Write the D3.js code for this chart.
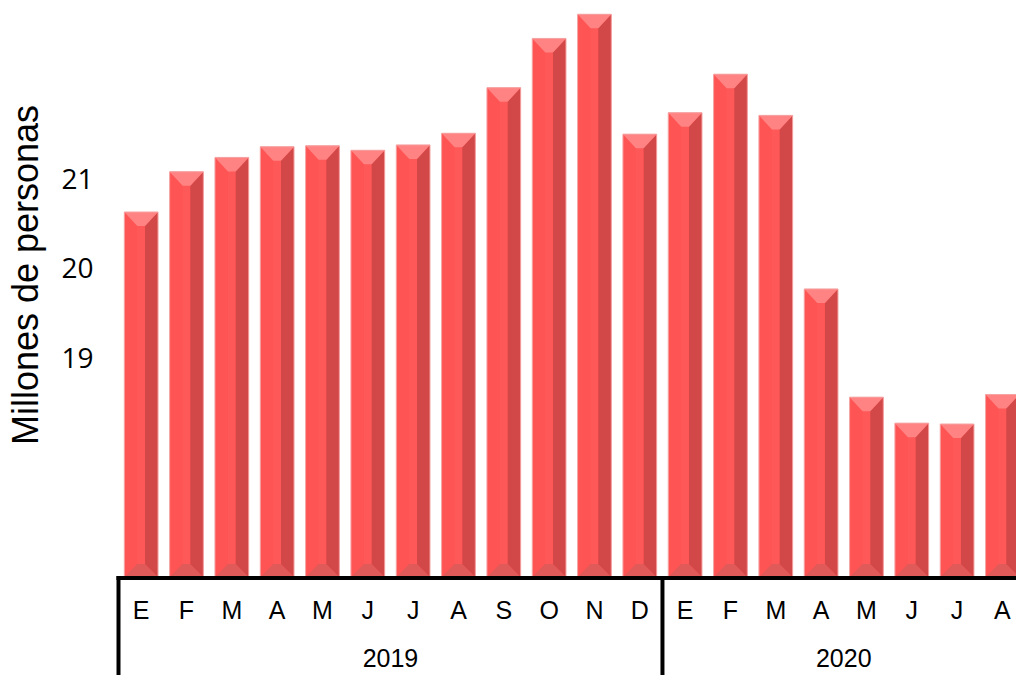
<!DOCTYPE html>
<html lang="es">
<head>
  <meta charset="UTF-8">
  <script src="https://cdn.jsdelivr.net/npm/d3@7"></script>
  <title>Millones de personas</title>
  <style>
    body { margin: 0; background: #fff; }
    svg { display: block; }
    .ticks_text text { font-family: 'Open Sans', sans-serif; font-size: 28px; fill: #000; }
    .month_text text { font-family: 'Liberation Sans', Arial, sans-serif; font-size: 25px; fill: #000; }
    .year_text { font-family: 'Liberation Sans', Arial, sans-serif; font-size: 25px; fill: #000; }
    .axis_text { font-family: 'Liberation Sans', Arial, sans-serif; font-size: 36px; fill: #000; }
  </style>
</head>
<body>
<div id="chart"></div>
<script>
  // data
  var years = ["2019", "2020"];
  var months2019 = ["E", "F", "M", "A", "M", "J", "J", "A", "S", "O", "N", "D"];
  var months2020 = ["E", "F", "M", "A", "M", "J", "J", "A"];
  var values2019 = [20.62, 21.07, 21.23, 21.35, 21.36, 21.31, 21.37, 21.50, 22.01, 22.56, 22.83, 21.49];
  var values2020 = [21.73, 22.16, 21.70, 19.76, 18.55, 18.26, 18.25, 18.58];
  var yTicks = [19, 20, 21];
  var yLabel = "Millones de personas";

  var width = 1016,
      height = 675,
      left = 118.5,
      step = 45.33,
      baseY = 577,
      bevel = 13;

  var dataset = [];
  months2019.forEach(function(m, i) { dataset.push({ key: "2019-" + i, month: m, year: "2019", value: values2019[i] }); });
  months2020.forEach(function(m, i) { dataset.push({ key: "2020-" + i, month: m, year: "2020", value: values2020[i] }); });

  var svg = d3.select("#chart")
    .append("svg")
    .attr("width", width)
    .attr("height", height);

  var xScale = d3.scaleBand()
    .domain(dataset.map(function(d) { return d.key; }))
    .range([left, left + step * dataset.length])
    .paddingInner(0.256)
    .paddingOuter(0.128);

  var yScale = d3.scaleLinear()
    .domain([16.54, 21])
    .range([baseY, 178]);

  // bevelled bars
  var bars = svg.append("g").selectAll("g")
    .data(dataset)
    .enter()
    .append("g");

  function poly(pts) { return "M" + pts.map(function(p) { return p.join(","); }).join("L") + "Z"; }

  function faces(d) {
    var x0 = xScale(d.key), x1 = x0 + xScale.bandwidth();
    var y0 = yScale(d.value), y1 = yScale(yScale.domain()[0]);
    var b = bevel;
    return {
      front: poly([[x0, y0], [x1, y0], [x1, y1], [x0, y1]]),
      top: poly([[x0, y0], [x1, y0], [x1 - b, y0 + b + 1], [x0 + b, y0 + b + 1]]),
      right: poly([[x1, y0], [x1, y1], [x1 - b, y1 - b], [x1 - b, y0 + b + 1]]),
      bottom: poly([[x0, y1], [x1, y1], [x1 - b, y1 - b], [x0 + b, y1 - b]]),
      mid: poly([[x0 + b, y0 + b + 1], [x1 - b, y0 + b + 1], [x1 - b, y1 - b], [x0 + b, y1 - b]])
    };
  }

  bars.append("path").attr("d", function(d) { return faces(d).front; }).style("fill", "#ff5454");
  bars.append("path").attr("d", function(d) { return faces(d).mid; }).style("fill", "#ff5858");
  bars.append("path").attr("d", function(d) { return faces(d).bottom; }).style("fill", "#e05a5a");
  bars.append("path").attr("d", function(d) { return faces(d).right; }).style("fill", "#d24747");
  bars.append("path").attr("d", function(d) { return faces(d).top; }).style("fill", "#ff8383");
  bars.append("path").attr("d", function(d) { return faces(d).front; })
    .style("fill", "none")
    .style("stroke", "#f5a3a3")
    .style("stroke-width", 1);

  // y ticks, no axis line
  var yAxis = svg.append("g")
    .attr("class", "ticks_text")
    .attr("transform", "translate(" + left + ",0)")
    .call(d3.axisLeft(yScale).tickValues(yTicks).tickSize(0).tickPadding(25).tickFormat(d3.format("d")));
  yAxis.select(".domain").remove();
  yAxis.selectAll("text").attr("dy", "0.36em");

  // month labels
  var xAxis = svg.append("g")
    .attr("class", "month_text")
    .attr("transform", "translate(0," + baseY + ")")
    .call(d3.axisBottom(xScale).tickSize(0).tickPadding(24).tickFormat(function(k) {
      return dataset.find(function(d) { return d.key === k; }).month;
    }));
  xAxis.select(".domain").remove();

  // axis lines
  svg.append("line")
    .attr("x1", left - 2).attr("x2", width)
    .attr("y1", baseY + 1).attr("y2", baseY + 1)
    .style("stroke", "#000").style("stroke-width", 4);

  years.forEach(function(yr) {
    var keys = dataset.filter(function(d) { return d.year === yr; }).map(function(d) { return d.key; });
    var xa = xScale(keys[0]) - xScale.step() * xScale.paddingOuter();
    var xb = xScale(keys[keys.length - 1]) + xScale.bandwidth() + xScale.step() * xScale.paddingOuter();
    svg.append("line")
      .attr("x1", xa).attr("x2", xa)
      .attr("y1", baseY - 1).attr("y2", height)
      .style("stroke", "#000").style("stroke-width", 4);
    svg.append("text")
      .attr("class", "year_text")
      .attr("x", (xa + xb) / 2)
      .attr("y", 667)
      .attr("text-anchor", "middle")
      .text(yr);
  });

  // y axis label
  svg.append("text")
    .attr("class", "axis_text")
    .attr("transform", "translate(38,275) rotate(-90)")
    .attr("text-anchor", "middle")
    .text(yLabel);
</script>
</body>
</html>
